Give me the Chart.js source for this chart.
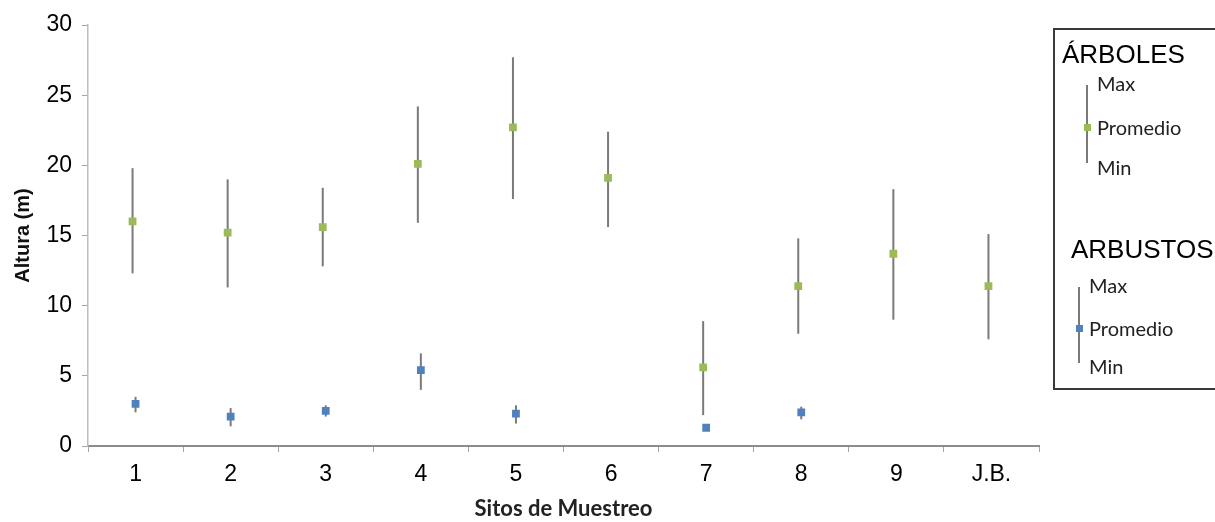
<!DOCTYPE html>
<html lang="es">
<head>
<meta charset="utf-8">
<title>Altura por sitio de muestreo</title>
<script src="https://cdn.jsdelivr.net/npm/chart.js@4/dist/chart.umd.min.js"></script>
<style>
  html, body { margin: 0; padding: 0; background: #fff; }
  #wrap { position: relative; width: 1215px; height: 522px; overflow: hidden; }
  #chart { position: absolute; left: 0; top: 0; }
  .legend { position: absolute; left: 1053px; top: 28px; width: 320px; height: 362px;
            border: 2px solid #3a3a3a; border-right: none; box-sizing: border-box; }
  .lg-title { position: absolute; font-family: "Liberation Sans", Arial, sans-serif;
              font-size: 26px; line-height: 26px; color: #000; white-space: nowrap;
              transform: translateY(-50%); }
  .lg-item { position: absolute; font-family: Lato, "Open Sans", sans-serif;
             font-size: 20px; line-height: 20px; color: #222; white-space: nowrap;
             transform: translateY(-50%); }
  .lg-bar { position: absolute; width: 2px; background: #7a7a7a; }
  .lg-mark { position: absolute; width: 7px; height: 7px; }
</style>
</head>
<body>
<div id="wrap">
  <canvas id="chart" width="1215" height="522"></canvas>
</div>
<script>
// Sampling sites along the x axis
const sites = ['1', '2', '3', '4', '5', '6', '7', '8', '9', 'J.B.'];

// Tree heights (m): mean, maximum, minimum
const arbolesProm = [16.0, 15.2, 15.6, 20.1, 22.7, 19.1, 5.6, 11.4, 13.7, 11.4];
const arbolesMax  = [19.8, 19.0, 18.4, 24.2, 27.7, 22.4, 8.9, 14.8, 18.3, 15.1];
const arbolesMin  = [12.3, 11.3, 12.8, 15.9, 17.6, 15.6, 2.2, 8.0, 9.0, 7.6];

// Shrub heights (m): mean, maximum, minimum (no shrubs at 6, 9 and J.B.)
const arbustosProm = [3.0, 2.1, 2.5, 5.4, 2.3, null, 1.3, 2.4, null, null];
const arbustosMax  = [3.5, 2.7, 2.9, 6.6, 2.9, null, 1.3, 2.8, null, null];
const arbustosMin  = [2.4, 1.4, 2.1, 4.0, 1.6, null, 1.3, 1.9, null, null];

// Height axis ticks
const yTicks = [0, 5, 10, 15, 20, 25, 30];

const GREEN = '#9bbb59';
const BLUE = '#4f81bd';
const WHISKER = '#7a7a7a';

// Legend built as HTML beside the plot
const legendSpec = [
  { title: 'ÁRBOLES', titleX: 1062, titleY: 54, textX: 1097, barX: 1087, barTop: 85, barBot: 163,
    rows: [['Max', 83], ['Promedio', 127], ['Min', 167]], color: GREEN },
  { title: 'ARBUSTOS', titleX: 1071, titleY: 249, textX: 1089, barX: 1079, barTop: 287, barBot: 363,
    rows: [['Max', 285], ['Promedio', 328], ['Min', 366]], color: BLUE }
];
const wrap = document.getElementById('wrap');
const box = document.createElement('div');
box.className = 'legend';
wrap.appendChild(box);
legendSpec.forEach(g => {
  const t = document.createElement('div');
  t.className = 'lg-title'; t.textContent = g.title;
  t.style.left = g.titleX + 'px'; t.style.top = g.titleY + 'px';
  wrap.appendChild(t);
  const bar = document.createElement('div');
  bar.className = 'lg-bar';
  bar.style.left = (g.barX - 1) + 'px'; bar.style.top = g.barTop + 'px';
  bar.style.height = (g.barBot - g.barTop) + 'px';
  wrap.appendChild(bar);
  const mk = document.createElement('div');
  mk.className = 'lg-mark'; mk.style.background = g.color;
  mk.style.left = (g.barX - 3.5) + 'px'; mk.style.top = (g.rows[1][1] - 3.5) + 'px';
  wrap.appendChild(mk);
  g.rows.forEach(([label, y]) => {
    const r = document.createElement('div');
    r.className = 'lg-item'; r.textContent = label;
    r.style.left = g.textX + 'px'; r.style.top = y + 'px';
    wrap.appendChild(r);
  });
});

// Nudges each series sideways a few pixels so the two series sit side by side
const seriesNudge = {
  id: 'seriesNudge',
  afterDatasetsUpdate(chart) {
    chart.data.datasets.forEach((ds, di) => {
      const shift = ds.xNudge || 0;
      chart.getDatasetMeta(di).data.forEach(pt => { pt.x += shift; });
    });
  }
};

// Vertical min–max whiskers drawn under the mean markers
const rangeBars = {
  id: 'rangeBars',
  beforeDatasetsDraw(chart) {
    const { ctx, scales: { y } } = chart;
    chart.data.datasets.forEach((ds, di) => {
      if (!chart.isDatasetVisible(di)) return;
      const pts = chart.getDatasetMeta(di).data;
      ctx.save();
      ctx.strokeStyle = ds.whiskerColor;
      ctx.lineWidth = 2;
      ds.data.forEach((v, i) => {
        const hi = ds.maxValues[i], lo = ds.minValues[i];
        if (v == null || hi == null || lo == null || hi === lo) return;
        const px = pts[i].x;
        ctx.beginPath();
        ctx.moveTo(px, y.getPixelForValue(hi));
        ctx.lineTo(px, y.getPixelForValue(lo));
        ctx.stroke();
      });
      ctx.restore();
    });
  }
};

new Chart(document.getElementById('chart'), {
  type: 'line',
  data: {
    labels: sites,
    datasets: [
      { label: 'ÁRBOLES', data: arbolesProm, maxValues: arbolesMax, minValues: arbolesMin,
        xNudge: -3, whiskerColor: WHISKER, showLine: false, pointStyle: 'rect', pointRadius: 5.5,
        pointBackgroundColor: GREEN, pointBorderColor: GREEN, pointBorderWidth: 0 },
      { label: 'ARBUSTOS', data: arbustosProm, maxValues: arbustosMax, minValues: arbustosMin,
        xNudge: 0, whiskerColor: WHISKER, showLine: false, pointStyle: 'rect', pointRadius: 5.5,
        pointBackgroundColor: BLUE, pointBorderColor: BLUE, pointBorderWidth: 0 }
    ]
  },
  options: {
    responsive: false,
    animation: false,
    layout: { padding: { top: 25, right: 176, left: 0, bottom: 0 } },
    plugins: { legend: { display: false }, tooltip: { enabled: false } },
    scales: {
      x: {
        offset: true,
        grid: { offset: true, drawOnChartArea: false, drawTicks: true, tickLength: 6,
                color: '#a6a6a6', lineWidth: 1 },
        border: { color: '#8c8c8c', width: 2 },
        ticks: { color: '#000', padding: 9,
                 font: { family: '"Liberation Sans", Arial, sans-serif', size: 23 } },
        title: { display: true, text: 'Sitos de Muestreo', color: '#222',
                 padding: { top: 0, bottom: 0 },
                 font: { family: 'Lato, "Open Sans", sans-serif', size: 22, weight: 'bold' } },
        afterFit(s) { s.height = 76; }
      },
      y: {
        min: yTicks[0], max: yTicks[yTicks.length - 1],
        afterBuildTicks(s) { s.ticks = yTicks.map(v => ({ value: v })); },
        grid: { drawOnChartArea: false, drawTicks: true, tickLength: 6,
                color: '#a6a6a6', lineWidth: 1 },
        border: { color: '#bdbdbd', width: 1.5 },
        ticks: { color: '#000', padding: 10,
                 font: { family: '"Liberation Sans", Arial, sans-serif', size: 23 } },
        title: { display: true, text: 'Altura (m)', color: '#111',
                 padding: { top: 11, bottom: 0 },
                 font: { family: '"Liberation Sans", Arial, sans-serif', size: 20, weight: 'bold' } },
        afterFit(s) { s.width = 88; }
      }
    }
  },
  plugins: [seriesNudge, rangeBars]
});
</script>
</body>
</html>
